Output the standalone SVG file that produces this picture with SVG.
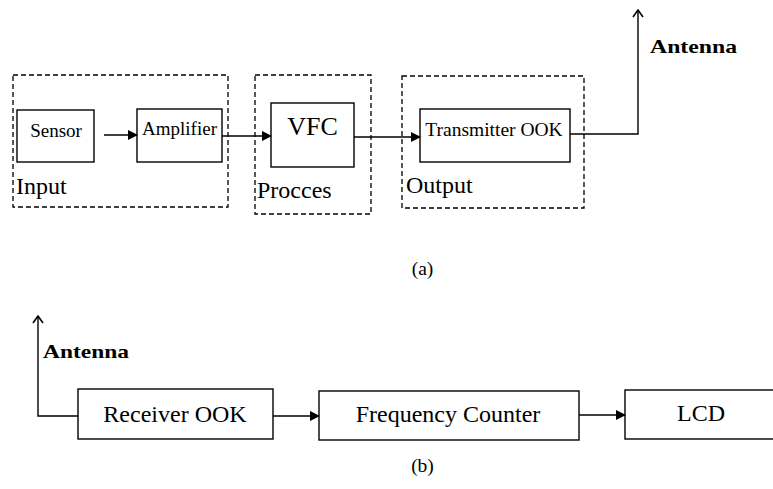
<svg xmlns="http://www.w3.org/2000/svg" width="773" height="489" viewBox="0 0 773 489">
  <defs>
    <marker id="tri" markerWidth="10" markerHeight="10" refX="9" refY="5" orient="auto" markerUnits="userSpaceOnUse">
      <path d="M0,0 L10,5 L0,10 Z" fill="#000"/>
    </marker>
    <marker id="open" markerWidth="12" markerHeight="12" refX="6" refY="1" orient="0" markerUnits="userSpaceOnUse">
      <path d="M1,8 L6,1 L11,8" fill="none" stroke="#000" stroke-width="1.6"/>
    </marker>
    <style>
      .box { fill: #fff; stroke: #000; stroke-width: 1.4; }
      .group { fill: none; stroke: #000; stroke-width: 1.3; stroke-dasharray: 5 3; }
      .wire { fill: none; stroke: #000; stroke-width: 1.4; }
      .lbl { font-size: 24px; }
      .bold { font-weight: bold; font-size: 19px; }
    </style>
  </defs>

  <rect width="773" height="489" fill="#fff"/>

  <!-- (a) transmitter side -->
  <g id="input-block">
    <rect class="group" x="13" y="75" width="215" height="132"/>
    <text class="lbl" font-family="Liberation Serif" x="16" y="194">Input</text>
  </g>
  <g id="process-block">
    <rect class="group" x="255" y="75" width="116" height="139"/>
    <text class="lbl" font-family="Liberation Serif" x="257" y="198">Procces</text>
  </g>
  <g id="output-block">
    <rect class="group" x="402" y="76" width="182" height="132"/>
    <text class="lbl" font-family="Liberation Serif" x="406" y="193">Output</text>
  </g>

  <g id="sensor">
    <rect class="box" x="17" y="110" width="77" height="52"/>
    <text font-family="Liberation Serif" x="56" y="137" font-size="19" text-anchor="middle">Sensor</text>
  </g>
  <g id="amplifier">
    <rect class="box" x="137" y="109" width="85" height="53"/>
    <text font-family="Liberation Serif" x="179.5" y="135" font-size="19" text-anchor="middle">Amplifier</text>
  </g>
  <g id="vfc">
    <rect class="box" x="271" y="103" width="83" height="64"/>
    <text font-family="Liberation Serif" x="312.5" y="135" font-size="26" text-anchor="middle">VFC</text>
  </g>
  <g id="transmitter">
    <rect class="box" x="420" y="109" width="150" height="53"/>
    <text font-family="Liberation Serif" x="494" y="136" font-size="19.5" text-anchor="middle">Transmitter OOK</text>
  </g>
  <g id="tx-antenna">
    <text class="bold" font-family="Liberation Serif" x="650" y="53" textLength="87" lengthAdjust="spacingAndGlyphs">Antenna</text>
  </g>

  <!-- (b) receiver side -->
  <g id="rx-antenna">
    <text class="bold" font-family="Liberation Serif" x="43" y="358" textLength="86" lengthAdjust="spacingAndGlyphs">Antenna</text>
  </g>
  <g id="receiver">
    <rect class="box" x="78" y="389" width="195" height="50"/>
    <text font-family="Liberation Serif" x="175" y="422" font-size="24" text-anchor="middle">Receiver OOK</text>
  </g>
  <g id="frequency-counter">
    <rect class="box" x="319" y="391" width="260" height="49"/>
    <text font-family="Liberation Serif" x="448" y="422" font-size="24" text-anchor="middle">Frequency Counter</text>
  </g>
  <g id="lcd">
    <rect class="box" x="625" y="390" width="160" height="49"/>
    <text font-family="Liberation Serif" x="701" y="421" font-size="24" text-anchor="middle">LCD</text>
  </g>

  <g id="captions">
    <text font-family="Liberation Serif" x="422.5" y="275" font-size="19.5" text-anchor="middle">(a)</text>
    <text font-family="Liberation Serif" x="422.5" y="472" font-size="19.5" text-anchor="middle">(b)</text>
  </g>

  <g id="connectors">
    <line class="wire" x1="104" y1="135" x2="137" y2="135" marker-end="url(#tri)"/>
    <line class="wire" x1="222" y1="136" x2="271" y2="136" marker-end="url(#tri)"/>
    <line class="wire" x1="354" y1="137" x2="420" y2="137" marker-end="url(#tri)"/>
    <path class="wire" d="M570,134 H638 V10" marker-end="url(#open)"/>
    <path class="wire" d="M78,416 H38 V316" marker-end="url(#open)"/>
    <line class="wire" x1="273" y1="416" x2="319" y2="416" marker-end="url(#tri)"/>
    <line class="wire" x1="579" y1="415" x2="625" y2="415" marker-end="url(#tri)"/>
  </g>
</svg>
